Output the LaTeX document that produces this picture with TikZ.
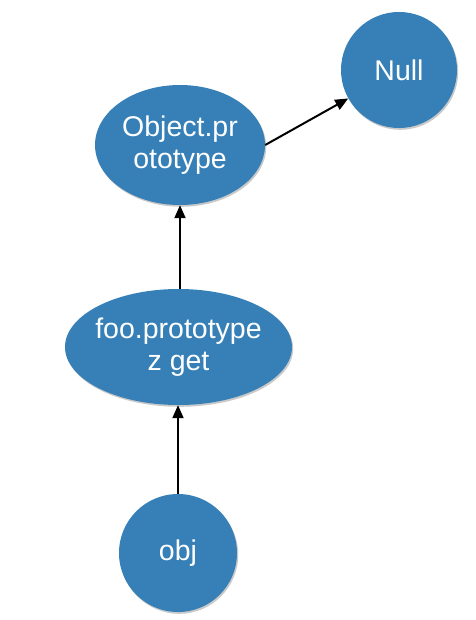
\documentclass[tikz,border=0pt]{standalone}
\usepackage{fontspec}
\setmainfont{Liberation Sans}
\usetikzlibrary{shapes.geometric,arrows.meta,shadows}
\definecolor{nodeblue}{HTML}{3680B7}
\tikzset{
  blob/.style={fill=nodeblue, text=white, inner sep=0pt, align=center,
    font=\fontsize{28.5}{32.5}\selectfont,
    drop shadow={shadow xshift=1.2pt, shadow yshift=-1.8pt, opacity=0.35, fill=black!60}},
  link/.style={line width=2pt, -{Triangle[length=13pt,width=11pt]}}
}
\begin{document}
\begin{tikzpicture}[x=1pt,y=-1pt]
\useasboundingbox (0,0) rectangle (475,620);
\fill[white] (0,0) rectangle (475,620);
\node[blob, circle, minimum size=116pt] (null) at (399,70) {Null};
\node[blob, ellipse, minimum width=170pt, minimum height=120pt] (objp) at (180,145) {Object.pr\\ototype};
\node[blob, ellipse, inner xsep=-12pt, minimum width=227pt, minimum height=116pt] (foo) at (178.5,347) {foo.prototype\\z get};
\node[blob, circle, minimum size=118pt] (obj) at (178,553) {obj};
\draw[link] (objp.east) -- (null);
\draw[link] (foo.north -| objp.south) -- (objp.south);
\draw[link] (obj.north) -- (obj.north |- foo.south);
\end{tikzpicture}
\end{document}
